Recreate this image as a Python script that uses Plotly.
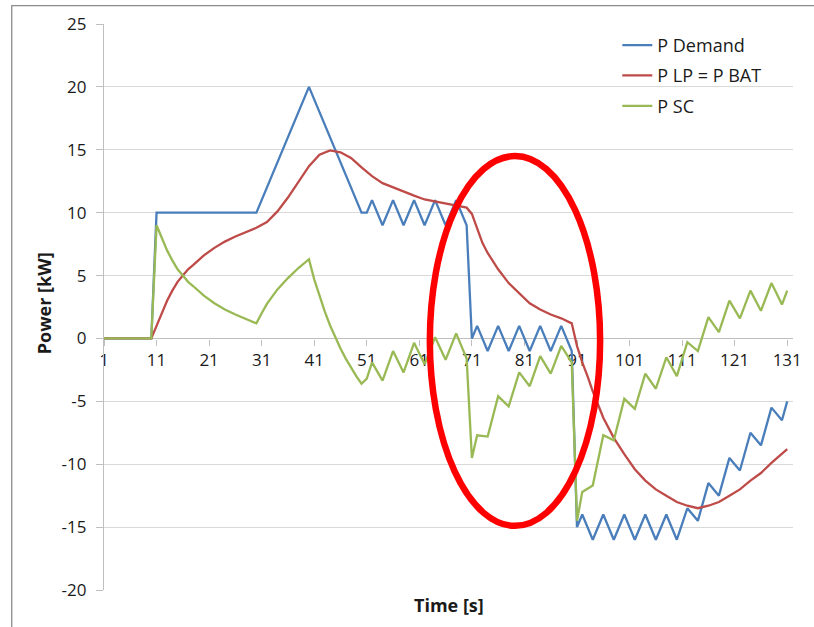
import plotly.graph_objects as go

# ---- data -------------------------------------------------------------
# P Demand (kW): corner points of the load profile
demand_t = [1, 10, 11, 30, 40, 50, 51,
            52, 54, 56, 58, 60, 62, 64, 66, 68, 70,
            71,
            72, 74, 76, 78, 80, 82, 84, 86, 88, 90,
            91,
            92, 94, 96, 98, 100, 102, 104, 106, 108, 110,
            112, 114, 116, 118, 120, 122, 124, 126, 128, 130,
            131]
demand_kw = [0, 0, 10, 10, 20, 10, 10,
             11, 9, 11, 9, 11, 9, 11, 9, 11, 9,
             0,
             1, -1, 1, -1, 1, -1, 1, -1, 1, -1,
             -15,
             -14, -16, -14, -16, -14, -16, -14, -16, -14, -16,
             -13.5, -14.5, -11.5, -12.5, -9.5, -10.5, -7.5, -8.5, -5.5, -6.5,
             -5]

# P LP = P BAT (kW)
bat_t = [1, 10, 11, 12, 13, 14, 15, 16, 17, 18, 20, 22, 24, 26, 28, 30,
         32, 34, 36, 38, 40, 42, 44, 46, 48, 50, 52, 54, 56, 58, 60, 62,
         64, 66, 68, 70, 71, 72, 73, 74, 76, 78, 80, 82, 84, 86, 88, 90,
         91, 92, 93, 94, 96, 98, 100, 102, 104, 106, 108, 110, 112, 114,
         116, 118, 120, 122, 124, 126, 128, 130, 131]
bat_kw = [0, 0, 1.0, 2.0, 3.0, 3.8, 4.5, 5.0, 5.5, 5.85, 6.6, 7.2, 7.7, 8.1, 8.45, 8.8,
          9.25, 10.1, 11.2, 12.4, 13.7, 14.6, 14.95, 14.8, 14.35, 13.6, 12.9, 12.35, 12.0, 11.7, 11.35, 11.05,
          10.9, 10.7, 10.6, 10.4, 9.9, 8.7, 7.6, 6.8, 5.5, 4.4, 3.6, 2.8, 2.3, 1.9, 1.6, 1.2,
          -0.6, -1.9, -3.0, -4.2, -6.3, -7.9, -9.2, -10.4, -11.3, -12.0, -12.5, -13.0, -13.3, -13.5,
          -13.3, -13.0, -12.5, -12.0, -11.3, -10.7, -9.9, -9.2, -8.8]

# P SC (kW)
sc_t = [1, 10, 11, 12, 13, 14, 15, 16, 17, 18, 19, 20, 22, 24, 26, 28, 30,
        31, 32, 34, 36, 38, 40,
        41, 42, 43, 44, 45, 46, 47, 48, 49, 50, 51,
        52, 54, 56, 58, 60, 62, 64, 66, 68, 70,
        71,
        72, 74, 76, 78, 80, 82, 84, 86, 88, 90,
        91,
        92, 94, 96, 98, 100, 102, 104, 106, 108, 110,
        112, 114, 116, 118, 120, 122, 124, 126, 128, 130,
        131]
sc_kw = [0, 0, 9.0, 8.0, 7.0, 6.2, 5.5, 5.0, 4.5, 4.15, 3.75, 3.4, 2.8, 2.3, 1.9, 1.55, 1.2,
         2.0, 2.75, 3.9, 4.8, 5.6, 6.3,
         4.7, 3.4, 2.15, 1.05, 0.05, -0.8, -1.6, -2.35, -3.0, -3.6, -3.2,
         -1.9, -3.35, -1.0, -2.7, -0.35, -2.05, 0.1, -1.7, 0.4, -1.6,
         -9.5,
         -7.7, -7.8, -4.6, -5.4, -2.7, -3.8, -1.4, -2.8, -0.6, -1.9,
         -14.5,
         -12.2, -11.7, -7.7, -8.1, -4.8, -5.6, -2.8, -4.0, -1.5, -3.0,
         -0.3, -1.0, 1.7, 0.5, 3.0, 1.6, 3.8, 2.2, 4.4, 2.7,
         3.8]

series_names = ["P Demand", "P LP = P BAT", "P SC"]
series_colors = ["#4A7EBB", "#BE4B48", "#98B954"]

# axis ticks (plain hyphen for negatives)
y_ticks = [-20, -15, -10, -5, 0, 5, 10, 15, 20, 25]
y_tick_labels = ["-20", "-15", "-10", "-5", "0", "5", "10", "15", "20", "25"]
x_ticks = [1, 11, 21, 31, 41, 51, 61, 71, 81, 91, 101, 111, 121, 131]
x_tick_labels = ["1", "11", "21", "31", "41", "51", "61", "71", "81", "91",
                 "101", "111", "121", "131"]

# highlighted window (time span and power span)
focus_t = [63.0, 95.4]
focus_kw = [-14.9, 14.5]

Y_MIN, Y_MAX = -20, 25
X_MIN, X_MAX = 1, 132.1

FONT = "Open Sans"
TEXT = "#1a1a1a"
AXIS = "#bfbfbf"
GRID = "#d9d9d9"

# ---- figure -----------------------------------------------------------
fig = go.Figure()
for i, (t, v) in enumerate([(demand_t, demand_kw), (bat_t, bat_kw), (sc_t, sc_kw)]):
    fig.add_trace(go.Scatter(
        x=t, y=v, mode="lines", name=series_names[i],
        legendgroup=f"g{i}",
        line=dict(color=series_colors[i], width=2.3),
    ))

# red ellipse marking the region of interest
fig.add_shape(type="circle", xref="x", yref="y",
              x0=focus_t[0], x1=focus_t[1], y0=focus_kw[0], y1=focus_kw[1],
              line=dict(color="#FF0000", width=6.5), layer="above")

# chart frame
fig.add_shape(type="rect", xref="paper", yref="paper",
              x0=-0.1339, x1=1.06, y0=-0.12, y1=1.0323,
              line=dict(color="#8c8c8c", width=1.3), layer="below")

fig.update_layout(
    width=814, height=627,
    margin=dict(l=104, r=19, t=23, b=37),
    paper_bgcolor="white", plot_bgcolor="white",
    font=dict(family=FONT, size=17, color=TEXT),
    showlegend=True,
    legend=dict(x=0.745, y=0.995, xanchor="left", yanchor="top",
                font=dict(family=FONT, size=18, color=TEXT),
                bgcolor="rgba(0,0,0,0)", tracegroupgap=4,
                traceorder="grouped", itemwidth=30),
    xaxis=dict(range=[X_MIN, X_MAX], tickmode="array",
               tickvals=x_ticks, ticktext=x_tick_labels,
               anchor="free", position=(0 - Y_MIN) / (Y_MAX - Y_MIN),
               showline=True, linecolor=AXIS, linewidth=1.3,
               ticks="outside", ticklen=6, tickcolor=AXIS, tickwidth=1.3,
               showgrid=False, zeroline=False, layer="below traces",
               tickfont=dict(family=FONT, size=17, color=TEXT)),
    yaxis=dict(range=[Y_MIN, Y_MAX], tickmode="array",
               tickvals=y_ticks, ticktext=y_tick_labels,
               showline=True, linecolor=AXIS, linewidth=1.3,
               ticks="outside", ticklen=7, tickcolor=AXIS, tickwidth=1.3,
               showgrid=True, gridcolor=GRID, gridwidth=1.3,
               zeroline=False, ticklabelstandoff=6,
               tickfont=dict(family=FONT, size=17, color=TEXT)),
    annotations=[
        dict(text="<b>Time [s]</b>", xref="paper", yref="paper",
             x=0.5, y=-0.026, xanchor="center", yanchor="middle",
             showarrow=False, font=dict(family=FONT, size=18, color=TEXT)),
        dict(text="<b>Power [kW]</b>", xref="paper", yref="paper",
             x=-0.0868, y=0.507, xanchor="center", yanchor="middle",
             textangle=-90, showarrow=False,
             font=dict(family=FONT, size=18, color=TEXT)),
    ],
)

fig.write_html("out.html")
